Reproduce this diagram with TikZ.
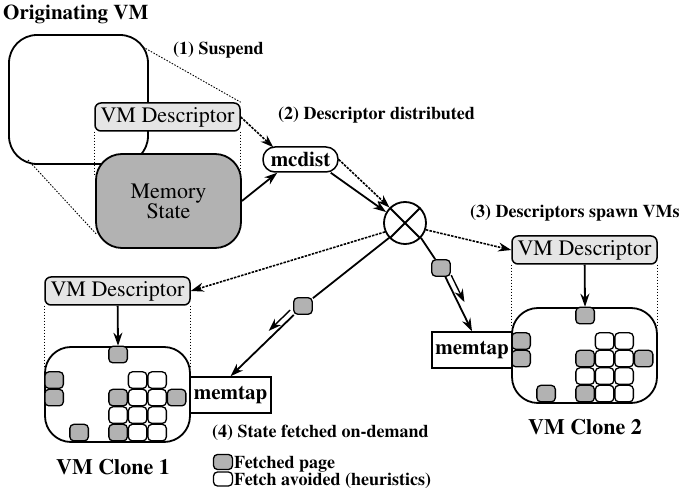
\documentclass[tikz,border=0pt]{standalone}
\usepackage[T1]{fontenc}
\usepackage{times}
\usetikzlibrary{shapes.geometric, arrows.meta, calc, positioning}
\tikzstyle{descr} = [rectangle, rounded corners=6pt, draw=black, fill=black!10,
	line width=1.5pt, minimum width=145pt, minimum height=28pt, inner sep=0pt,
	font=\fontsize{22}{24}\selectfont]
\tikzstyle{vmbox} = [rectangle, rounded corners=26pt, draw=black, fill=white,
	line width=1.8pt, inner sep=0pt]
\tikzstyle{page} = [rectangle, rounded corners=4pt, draw=black, fill=black!30,
	line width=1.3pt, minimum width=18.5pt, minimum height=16.5pt, inner sep=0pt]
\tikzstyle{freepage} = [page, fill=white]
\tikzstyle{tap} = [rectangle, draw=black, fill=white, line width=1.5pt,
	minimum width=81pt, minimum height=36pt, inner sep=0pt,
	font=\fontsize{21}{24}\selectfont\bfseries]
\tikzstyle{stepnote} = [anchor=west, inner sep=0pt, font=\fontsize{18}{20}\selectfont\bfseries]
\tikzstyle{arrow} = [-{Stealth[length=13pt, width=9pt]}, line width=1.8pt]
\tikzstyle{arrow-d} = [arrow, line width=1.6pt, dash pattern=on 2.5pt off 1.2pt]
\tikzstyle{zoomline} = [line width=0.9pt, dash pattern=on 1.5pt off 1.5pt]

\begin{document}
\begin{tikzpicture}[x=1pt, y=-1pt]
	% canvas
	\useasboundingbox (0,0) rectangle (689,494);

	% originating VM
	\node (title) [anchor=base west, inner sep=0pt, font=\fontsize{21}{24}\selectfont\bfseries] at (3,20) {Originating VM};
	\node (orig) [vmbox, rounded corners=28pt, minimum width=139pt, minimum height=129pt] at (78.5,99.5) {};
	\node (desc0) [descr] at (167.5,117) {VM Descriptor};
	\draw [zoomline] (desc0.south west) -- ++(0,45);
	\draw [zoomline] (desc0.south east) -- ++(0,45);
	\node (mem) [vmbox, fill=black!30, minimum width=145pt, minimum height=94pt, align=center,
		font=\fontsize{22}{20}\selectfont] at (168.5,201) {Memory\\State};
	\coordinate (zoomTop) at (143,47);
	\coordinate (zoomBot) at (28,160);
	\draw [zoomline] (zoomTop) -- (desc0.north east);
	\draw [zoomline] (zoomBot) -- ($(mem.south west)+(1,-15)$);

	% distribution
	\node (mcdist) [rectangle, rounded corners=12pt, draw=black, fill=white, line width=1.5pt,
		minimum width=75pt, minimum height=25pt, inner sep=0pt,
		font=\fontsize{21}{24}\selectfont\bfseries] at (300.5,159.5) {mcdist};
	\node (mux) [circle, draw=black, line width=1.8pt, minimum size=42pt, inner sep=0pt] at (405,223) {};
	\draw [line width=1.8pt] (mux.north west) -- (mux.south east) (mux.north east) -- (mux.south west);

	\draw [arrow-d] (desc0.east) -- ($(mcdist.north west)+(11,1)$);
	\draw [arrow] (mem.east) -- ($(mcdist.south west)+(15,0)$);
	\draw [arrow-d] (mcdist.east) -- (mux.north west);
	\draw [arrow] ($(mcdist.south east)+(-8,0)$) -- (mux.150);

	% clones
	\node (desc1) [descr] at (117.5,291) {VM Descriptor};
	\node (desc2) [descr] at (584.5,250) {VM Descriptor};
	\foreach \k in {1,2} {
		\draw [zoomline] (desc\k.south west) -- ++(0,62);
		\draw [zoomline] (desc\k.south east) -- ++(0,62);
	}
	\node (clone1) [vmbox, minimum width=145pt, minimum height=95pt] at (117.5,394.5) {};
	\node (clone2) [vmbox, minimum width=145pt, minimum height=95pt] at (584.5,355.5) {};

	\foreach \k in {1,2} {
		\node (top\k) [page] at ($(clone\k.north west)+(74,8.5)$) {};
		\node (lft\k-a) [page] at ($(clone\k.north west)+(10,34)$) {};
		\node (lft\k-b) [page] at ($(clone\k.north west)+(10,51.5)$) {};
		\node (bot\k) [page] at ($(clone\k.north west)+(35,86.5)$) {};
		\foreach \c/\r/\s in {1/0/freepage, 2/0/freepage, 0/1/page, 1/1/freepage, 2/1/freepage,
			3/1/page, 0/2/freepage, 1/2/freepage, 2/2/freepage, 0/3/page, 1/3/freepage, 2/3/freepage}
			\node (pg\k-\c\r) [\s] at ($(clone\k.north west)+(74+19.5*\c,34+17.5*\r)$) {};
		\draw [arrow] (desc\k) -- (top\k);
	}

	\node (memtap1) [tap] at (230.5,395) {memtap};
	\node (memtap2) [tap, minimum width=80pt] at (472,350) {memtap};

	% descriptors out of the mux
	\draw [arrow-d] (mux.204) -- (desc1.east);
	\draw [arrow-d] (mux.-18) -- (desc2.west);

	% pages fetched on demand
	\node (page1) [page] at (303,306) {};
	\node (page2) [page] at (441,268) {};
	\draw [line width=1.8pt] (mux.223) -- (page1);
	\draw [arrow] (page1) -- (memtap1.north);
	\draw [line width=1.8pt] (mux.-43) -- (page2);
	\draw [arrow] (page2) -- (memtap2.north);
	\coordinate (hint1a) at ($(page1)!12pt!(memtap1.north)!6pt!-90:(memtap1.north)$);
	\coordinate (hint1b) at ($(page1)!42pt!(memtap1.north)!6pt!-90:(memtap1.north)$);
	\coordinate (hint2a) at ($(page2)!11pt!(memtap2.north)!6pt!90:(memtap2.north)$);
	\coordinate (hint2b) at ($(page2)!41pt!(memtap2.north)!6pt!90:(memtap2.north)$);
	\draw [arrow, line width=1.4pt] (hint1a) -- (hint1b);
	\draw [arrow, line width=1.4pt] (hint2a) -- (hint2b);

	% labels
	\node (lbl1) [stepnote] at (173,50) {(1) Suspend};
	\node (lbl2) [stepnote] at (278,115) {(2) Descriptor distributed};
	\node (lbl3) [stepnote] at (470,213) {(3) Descriptors spawn VMs};
	\node (lbl4) [stepnote] at (212,433) {(4) State fetched on-demand};
	\node (cap1) [font=\fontsize{22}{24}\selectfont\bfseries] at (113,467) {VM Clone 1};
	\node (cap2) [font=\fontsize{22}{24}\selectfont\bfseries] at (585,427) {VM Clone 2};

	% legend
	\node (keyFetched) [page, minimum width=19pt, minimum height=15pt] at (223,462) {};
	\node (keyAvoided) [freepage, minimum width=19pt, minimum height=14pt] at (223,479) {};
	\node (keyText) [anchor=north west, inner sep=0pt, align=left,
		font=\fontsize{18}{15}\selectfont\bfseries]
		at (234,455.5) {Fetched page\\Fetch avoided (heuristics)};
\end{tikzpicture}
\end{document}
